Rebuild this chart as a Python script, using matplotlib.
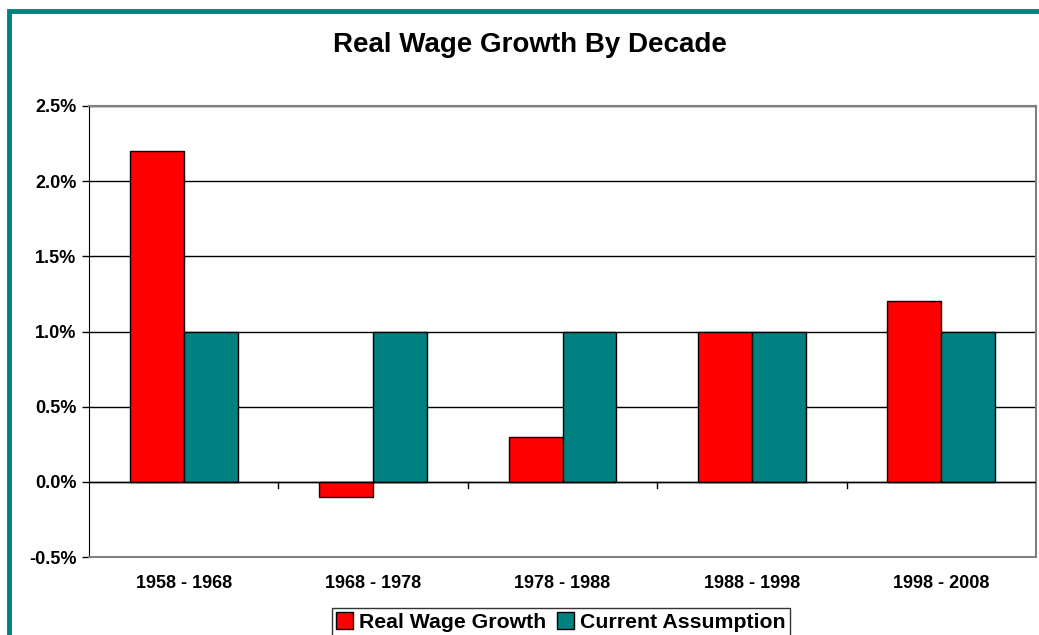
import matplotlib.pyplot as plt
from matplotlib.patches import Rectangle
from matplotlib.ticker import FuncFormatter, MultipleLocator
import numpy as np

decades = ["1958 - 1968", "1968 - 1978", "1978 - 1988", "1988 - 1998", "1998 - 2008"]
real_wage = [2.2, -0.1, 0.3, 1.0, 1.2]
assumption = [1.0, 1.0, 1.0, 1.0, 1.0]

RED = "#FF0000"
TEAL = "#008080"

W, H = 1039, 635
fig = plt.figure(figsize=(W / 100, H / 100), dpi=100)
plt.rcParams["font.family"] = ["Liberation Sans", "DejaVu Sans"]

# outer teal frame (runs off the right and bottom edges)
fig.patches.append(Rectangle((8.5 / W, -0.1), 1.2, 1 - 11 / H + 0.1,
                             transform=fig.transFigure, fill=False,
                             edgecolor=TEAL, linewidth=3.5))

ax = fig.add_axes([89 / W, 1 - 557 / H, (1036 - 89) / W, (557 - 106) / H])

x = np.arange(len(decades))
bw = 0.285
ax.bar(x - bw / 2, real_wage, bw, color=RED, edgecolor="black", linewidth=1,
       label="Real Wage Growth", zorder=3)
ax.bar(x + bw / 2, assumption, bw, color=TEAL, edgecolor="black", linewidth=1,
       label="Current Assumption", zorder=3)

ax.set_xlim(-0.5, len(decades) - 0.5)
ax.set_ylim(-0.5, 2.5)
ax.yaxis.set_major_locator(MultipleLocator(0.5))
ax.yaxis.set_major_formatter(FuncFormatter(lambda v, p: f"{v:.1f}%"))
ax.yaxis.grid(True, color="black", linewidth=1, zorder=1)
ax.set_axisbelow(True)

ax.set_xticks(x)
ax.set_xticklabels(decades)
ax.tick_params(axis="x", length=0, pad=13)
ax.tick_params(axis="y", length=5, width=1, direction="out", pad=4)
for lab in ax.get_xticklabels() + ax.get_yticklabels():
    lab.set_fontweight("bold")
    lab.set_fontsize(13)

# zero line with category-boundary ticks
ax.axhline(0, color="black", linewidth=1, zorder=4)
for b in np.arange(0.5, len(decades) - 0.5, 1):
    ax.plot([b, b], [0, -0.04], color="black", linewidth=1, zorder=4)

for side in ("top", "right", "bottom"):
    ax.spines[side].set_color("#808080")
    ax.spines[side].set_linewidth(1.5)
ax.spines["left"].set_color("black")

fig.text(530 / W, 1 - 45 / H, "Real Wage Growth By Decade", ha="center", va="center",
         fontsize=20, fontweight="bold")

leg = fig.legend(loc="center", bbox_to_anchor=(561 / W, 1 - 622 / H), ncol=2,
                 frameon=True, fancybox=False, edgecolor="black",
                 prop={"weight": "bold", "size": 15.3}, handlelength=0.8,
                 handleheight=0.8, handletextpad=0.3, columnspacing=0.5,
                 borderpad=0.2, borderaxespad=0)
leg.get_frame().set_linewidth(1)

fig.savefig("out.png", dpi=100)
